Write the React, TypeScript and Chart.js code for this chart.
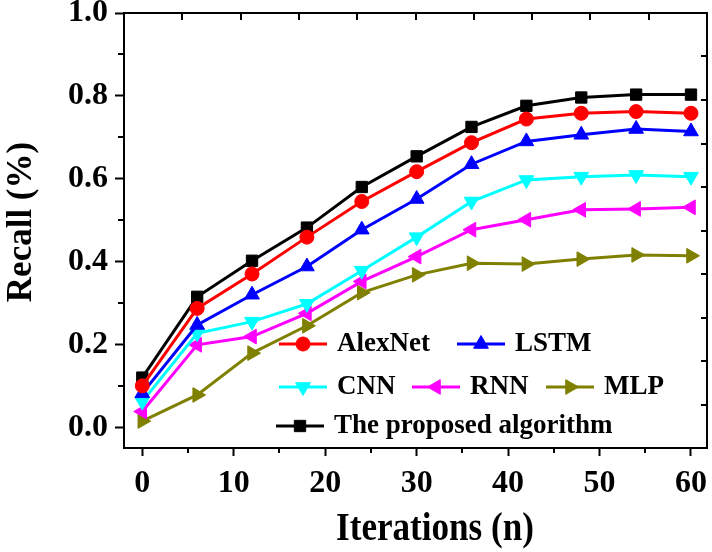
import React, { useEffect, useRef } from "react";
import { Chart, registerables } from "chart.js";
import { drawPoint } from "chart.js/helpers";

Chart.register(...registerables);

const ITERATIONS = [0, 6, 12, 18, 24, 30, 36, 42, 48, 54, 60];
const ALEXNET = [0.100, 0.287, 0.370, 0.459, 0.545, 0.617, 0.687, 0.744, 0.758, 0.762, 0.758];
const LSTM = [0.082, 0.247, 0.320, 0.388, 0.477, 0.551, 0.635, 0.690, 0.706, 0.720, 0.714];
const CNN = [0.062, 0.227, 0.255, 0.298, 0.378, 0.459, 0.545, 0.597, 0.605, 0.609, 0.605];
const RNN = [0.038, 0.199, 0.219, 0.275, 0.352, 0.412, 0.477, 0.501, 0.525, 0.527, 0.531];
const MLP = [0.015, 0.078, 0.179, 0.245, 0.325, 0.368, 0.396, 0.394, 0.406, 0.416, 0.414];
const PROPOSED = [0.120, 0.315, 0.402, 0.482, 0.580, 0.654, 0.725, 0.776, 0.796, 0.803, 0.803];

const X_TICKS = [0, 10, 20, 30, 40, 50, 60];
const X_MINOR = [5, 15, 25, 35, 45, 55];
const Y_TICKS = [0, 0.2, 0.4, 0.6, 0.8, 1.0];
const Y_MINOR = [0.1, 0.3, 0.5, 0.7, 0.9];
const FRAME_TICKS = [1, 2, 3, 4, 5, 6, 7, 8, 9];

const X_TITLE = "Iterations (n)";
const Y_TITLE = "Recall (%)";

const FONT = '"Liberation Serif", "Times New Roman", serif';

const SERIES = [
  { label: "AlexNet", data: ALEXNET, color: "#ff0000", style: "circle", rotation: 0, radius: 7 },
  { label: "LSTM", data: LSTM, color: "#0000ff", style: "triangle", rotation: 0, radius: 8.5 },
  { label: "CNN", data: CNN, color: "#00ffff", style: "triangle", rotation: 180, radius: 8.5 },
  { label: "RNN", data: RNN, color: "#ff00ff", style: "triangle", rotation: -90, radius: 8.5 },
  { label: "MLP", data: MLP, color: "#808000", style: "triangle", rotation: 90, radius: 8.5 },
  { label: "The proposed algorithm", data: PROPOSED, color: "#000000", style: "rect", rotation: 0, radius: 8 },
];

// legend layout: dataset index and anchor (start of the line sample)
const LEGEND_ITEMS = [
  { ds: 0, x: 279, y: 344 },
  { ds: 1, x: 457, y: 344 },
  { ds: 2, x: 279, y: 387 },
  { ds: 3, x: 412, y: 387 },
  { ds: 4, x: 546, y: 387 },
  { ds: 5, x: 276, y: 426 },
];

const decorPlugin = {
  id: "decor",
  afterDraw(chart: any) {
    const { ctx, chartArea: a, scales } = chart;
    ctx.save();
    ctx.strokeStyle = "#000";
    ctx.lineWidth = 2;
    ctx.lineCap = "butt";
    ctx.beginPath();
    ctx.moveTo(a.left - 1, a.top);
    ctx.lineTo(a.right, a.top);
    ctx.lineTo(a.right, a.bottom + 1);
    // inward ticks on top and right
    for (const v of FRAME_TICKS) {
      const x = Math.round(scales.x2.getPixelForValue(v));
      ctx.moveTo(x, a.top);
      ctx.lineTo(x, a.top + 7);
      const y = Math.round(scales.y2.getPixelForValue(v));
      ctx.moveTo(a.right, y);
      ctx.lineTo(a.right - 6, y);
    }
    // minor outward ticks
    for (const v of X_MINOR) {
      const x = Math.round(scales.x.getPixelForValue(v));
      ctx.moveTo(x, a.bottom);
      ctx.lineTo(x, a.bottom + 5);
    }
    for (const v of Y_MINOR) {
      const y = Math.round(scales.y.getPixelForValue(v));
      ctx.moveTo(a.left, y);
      ctx.lineTo(a.left - 6, y);
    }
    ctx.stroke();

    // axis titles
    ctx.fillStyle = "#000";
    ctx.textBaseline = "middle";
    ctx.textAlign = "center";
    ctx.save();
    ctx.translate(435, 530);
    ctx.scale(0.9, 1);
    ctx.font = `bold 39px ${FONT}`;
    ctx.fillText(X_TITLE, 0, 0);
    ctx.restore();
    ctx.save();
    ctx.translate(22, 222);
    ctx.rotate(-Math.PI / 2);
    ctx.font = `bold 35px ${FONT}`;
    ctx.fillText(Y_TITLE, 0, 0);
    ctx.restore();

    // legend
    ctx.textAlign = "left";
    ctx.font = `bold 27px ${FONT}`;
    for (const item of LEGEND_ITEMS) {
      const s = SERIES[item.ds];
      ctx.strokeStyle = s.color;
      ctx.fillStyle = s.color;
      ctx.lineWidth = 3;
      ctx.beginPath();
      ctx.moveTo(item.x, item.y);
      ctx.lineTo(item.x + 48, item.y);
      ctx.stroke();
      ctx.lineWidth = 1;
      drawPoint(ctx, { pointStyle: s.style, rotation: s.rotation, radius: s.radius, borderWidth: 1 } as any, item.x + 24, item.y);
      ctx.fillStyle = "#000";
      ctx.fillText(s.label, item.x + 58, item.y);
    }
    ctx.restore();
  },
};

export default function App() {
  const ref = useRef<HTMLCanvasElement | null>(null);

  useEffect(() => {
    if (!ref.current) return;
    const tickFont = { family: FONT, size: 32, weight: "bold" as const, lineHeight: 0.8 };
    const chart = new Chart(ref.current, {
      type: "line",
      data: {
        datasets: SERIES.map((s) => ({
          label: s.label,
          data: ITERATIONS.map((x, i) => ({ x, y: s.data[i] })),
          borderColor: s.color,
          backgroundColor: s.color,
          borderWidth: 3,
          pointStyle: s.style as any,
          pointRotation: s.rotation,
          pointRadius: s.radius,
          pointHoverRadius: s.radius,
          pointBackgroundColor: s.color,
          pointBorderColor: s.color,
          pointBorderWidth: 1,
          tension: 0,
          fill: false,
        })),
      },
      options: {
        responsive: false,
        animation: false,
        events: [],
        layout: { autoPadding: false, padding: { top: 13, right: 5, left: 0, bottom: 0 } },
        plugins: { legend: { display: false }, tooltip: { enabled: false }, title: { display: false } },
        scales: {
          x: {
            type: "linear",
            min: -2,
            max: 61.75,
            afterBuildTicks: (s: any) => {
              s.ticks = X_TICKS.map((v) => ({ value: v }));
            },
            afterFit: (s: any) => {
              s.height = 104;
              s.paddingLeft = 0;
              s.paddingRight = 0;
            },
            ticks: {
              font: tickFont,
              color: "#000",
              padding: 15,
              maxRotation: 0,
              autoSkip: false,
              callback: (v: any) => String(v),
            },
            grid: { display: true, drawOnChartArea: false, drawTicks: true, tickLength: 8, tickWidth: 2, tickColor: "#000", color: "#000" },
            border: { display: true, color: "#000", width: 2 },
          },
          y: {
            type: "linear",
            min: -0.05,
            max: 1.0,
            afterBuildTicks: (s: any) => {
              s.ticks = Y_TICKS.map((v) => ({ value: v }));
            },
            afterFit: (s: any) => {
              s.width = 124;
              s.paddingTop = 0;
              s.paddingBottom = 0;
            },
            ticks: {
              font: tickFont,
              color: "#000",
              padding: 7,
              autoSkip: false,
              callback: (v: any) => Number(v).toFixed(1),
            },
            grid: { display: true, drawOnChartArea: false, drawTicks: true, tickLength: 9, tickWidth: 2, tickColor: "#000", color: "#000" },
            border: { display: true, color: "#000", width: 2 },
          },
          x2: { type: "linear", position: "top", min: 0, max: 10, display: false },
          y2: { type: "linear", position: "right", min: 0, max: 10, display: false },
        },
      },
      plugins: [decorPlugin],
    });
    return () => chart.destroy();
  }, []);

  return (
    <div style={{ position: "absolute", left: 0, top: 0, width: 712, height: 552, background: "#fff" }}>
      <canvas ref={ref} width={712} height={552} style={{ display: "block" }} />
    </div>
  );
}
